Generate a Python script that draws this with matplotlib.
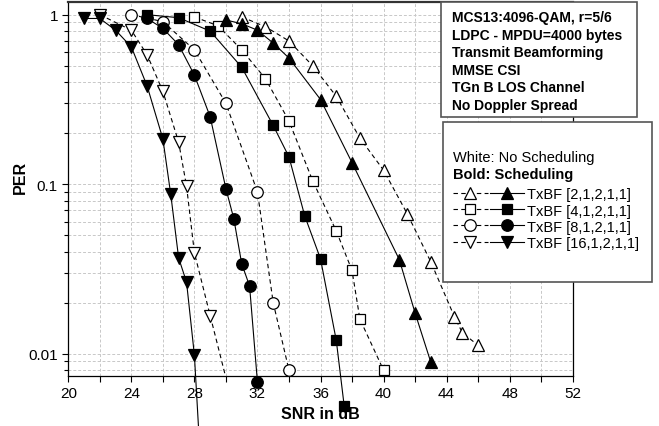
import matplotlib
matplotlib.use("Agg")
import matplotlib.pyplot as plt
from matplotlib.lines import Line2D
from matplotlib.patches import Rectangle
from matplotlib.legend_handler import HandlerTuple
from matplotlib.ticker import LogLocator, MultipleLocator, FixedLocator, NullFormatter

plt.rcParams['font.family'] = ['Liberation Sans', 'DejaVu Sans']

# ---------------- data (SNR in dB, PER) ----------------
snr_2_open = [31, 32.5, 34, 35.5, 37, 38.5, 40, 41.5, 43, 44.5, 45, 46]
per_2_open = [0.97, 0.85, 0.70, 0.50, 0.33, 0.187, 0.121, 0.067, 0.0348, 0.0165, 0.0133, 0.0112]
snr_2_fill = [30, 31, 32, 33, 34, 36, 38, 41, 42, 43]
per_2_fill = [0.93, 0.885, 0.81, 0.68, 0.555, 0.316, 0.134, 0.0359, 0.0174, 0.0089]

snr_4_open = [28, 29.5, 31, 32.5, 34, 35.5, 37, 38, 38.5, 40]
per_4_open = [0.97, 0.86, 0.62, 0.42, 0.236, 0.105, 0.053, 0.031, 0.016, 0.008]
snr_4_fill = [25, 27, 29, 31, 33, 34, 35, 36, 37, 37.5]
per_4_fill = [1.0, 0.96, 0.80, 0.49, 0.222, 0.145, 0.065, 0.0363, 0.012, 0.00495]

snr_8_open = [24, 26, 28, 30, 32, 33, 34]
per_8_open = [1.0, 0.91, 0.62, 0.30, 0.09, 0.020, 0.008]
snr_8_fill = [25, 26, 27, 28, 29, 30, 30.5, 31, 31.5, 32]
per_8_fill = [0.95, 0.83, 0.665, 0.44, 0.25, 0.094, 0.0626, 0.034, 0.0251, 0.0068]

snr_16_open = [22, 24, 25, 26, 27, 27.5, 28, 29, 30]
per_16_open = [1.0, 0.81, 0.58, 0.353, 0.177, 0.0976, 0.0394, 0.0168, 0.0072]
snr_16_fill = [21, 22, 23, 24, 25, 26, 26.5, 27, 27.5, 28, 28.5]
per_16_fill = [0.95, 0.95, 0.81, 0.645, 0.38, 0.185, 0.087, 0.0367, 0.0265, 0.0098, 0.0015]

labels = ["TxBF [2,1,2,1,1]", "TxBF [4,1,2,1,1]", "TxBF [8,1,2,1,1]", "TxBF [16,1,2,1,1]"]
x_ticks = [20, 24, 28, 32, 36, 40, 44, 48, 52]
y_ticks = [0.01, 0.1, 1]
y_ticklabels = ["0.01", "0.1", "1"]
info_lines = ["MCS13:4096-QAM, r=5/6", "LDPC - MPDU=4000 bytes", "Transmit Beamforming",
              "MMSE CSI", "TGn B LOS Channel", "No Doppler Spread"]

# ---------------- figure ----------------
W, H = 659, 427
fig = plt.figure(figsize=(W / 100, H / 100), dpi=100)
ax = fig.add_axes([68.3 / W, 1 - 376.7 / H, (572.7 - 68.3) / W, (376.7 - 2.7) / H])

ax.set_yscale('log')
ax.set_xlim(20, 52)
ax.set_ylim(0.00742, 1.193)

dash = (0, (4, 3))
lw = 0.8
open_kw = dict(color='black', lw=lw, ls=dash, mfc='white', mec='black', mew=0.9)
fill_kw = dict(color='black', lw=lw, ls='-', mfc='black', mec='black', mew=0.9)

series = [
    (snr_2_open, per_2_open, snr_2_fill, per_2_fill, '^', 9.2),
    (snr_4_open, per_4_open, snr_4_fill, per_4_fill, 's', 7.3),
    (snr_8_open, per_8_open, snr_8_fill, per_8_fill, 'o', 8.3),
    (snr_16_open, per_16_open, snr_16_fill, per_16_fill, 'v', 9.2),
]

handles = []
for i, (xo, yo, xf, yf, m, ms) in enumerate(series):
    if i == 3:
        ax.plot(xo, yo, marker=m, ms=ms, markevery=list(range(len(xo) - 1)),
                clip_on=True, zorder=3, **open_kw)
    else:
        ax.plot(xo, yo, marker=m, ms=ms, clip_on=False, zorder=3, **open_kw)
    ax.plot(xf, yf, marker=m, ms=ms, clip_on=False, zorder=4, **fill_kw)
    h_open = Line2D([], [], marker=m, ms=ms, **open_kw)
    h_fill = Line2D([], [], marker=m, ms=ms, **fill_kw)
    handles.append((h_open, h_fill))

# ticks
ax.xaxis.set_major_locator(FixedLocator(x_ticks))
ax.xaxis.set_minor_locator(MultipleLocator(2))
ax.set_yticks(y_ticks)
ax.set_yticklabels(y_ticklabels)
ax.yaxis.set_minor_locator(LogLocator(base=10, subs=range(2, 10)))
ax.yaxis.set_minor_formatter(NullFormatter())
ax.tick_params(which='major', direction='out', length=4.5, width=0.8, labelsize=11, pad=3)
ax.tick_params(which='minor', direction='out', length=3, width=0.8)
ax.tick_params(axis='x', which='minor', length=4)
ax.tick_params(top=False, right=False, which='both')

ax.grid(True, which='both', color='#c8c8c8', ls=(0, (3, 2)), lw=0.7)
ax.set_axisbelow(True)

for s in ['left', 'bottom', 'right']:
    ax.spines[s].set_linewidth(0.9)
    ax.spines[s].set_color('black')
ax.spines['top'].set_linewidth(1.6)
ax.spines['top'].set_color('#333333')

ax.set_xlabel("SNR in dB", fontsize=11.5, fontweight='bold')
ax.xaxis.set_label_coords(0.5, -(415 - 376.7) / 374)
ax.xaxis.label.set_va('center')
ax.set_ylabel("PER", fontsize=11.5, fontweight='bold')
ax.yaxis.set_label_coords(-(68.3 - 20) / 504.4, (376.7 - 177) / 374)
ax.yaxis.label.set_va('center')

# info box
def fx(px):
    return px / W

def fy(py):
    return 1 - py / H

fig.add_artist(Rectangle((fx(440.7), fy(117.7)), fx(637.3) - fx(440.7), fy(3) - fy(117.7),
                         transform=fig.transFigure, facecolor='white', edgecolor='#555555',
                         lw=1.2, zorder=5))
for k, line in enumerate(info_lines):
    fig.text(fx(451.7), fy(18 + k * 17.6), line, fontsize=10, fontweight='bold',
             ha='left', va='center', zorder=6)

# legend box
fig.add_artist(Rectangle((fx(442.7), fy(283.3)), fx(651.7) - fx(442.7), fy(123.3) - fy(283.3),
                         transform=fig.transFigure, facecolor='white', edgecolor='#555555',
                         lw=1.2, zorder=5))
fig.text(fx(453), fy(158), "White: No Scheduling", fontsize=10.5, ha='left', va='center', zorder=6)
fig.text(fx(453), fy(175), "Bold: Scheduling", fontsize=10.5, fontweight='bold',
         ha='left', va='center', zorder=6)

leg = fig.legend(handles, labels, loc='upper left', bbox_to_anchor=(fx(453), fy(188.5)),
                 bbox_transform=fig.transFigure, frameon=False, fontsize=10.5,
                 handler_map={tuple: HandlerTuple(ndivide=None, pad=0.15)},
                 handlelength=4.9, handletextpad=0.15, labelspacing=0.14,
                 borderpad=0, borderaxespad=0, numpoints=1)
leg.set_zorder(10)

fig.savefig("out.png", dpi=100)
